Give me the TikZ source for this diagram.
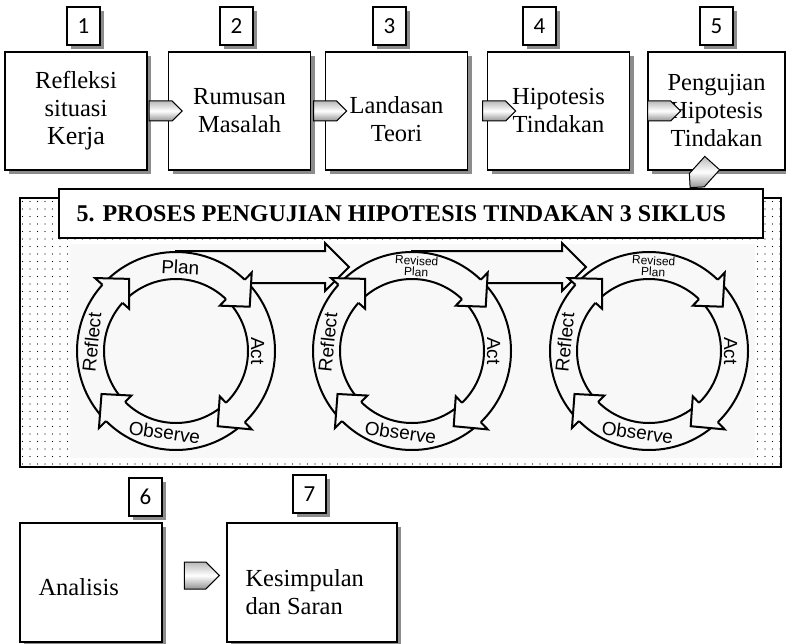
\documentclass[tikz,border=0pt]{standalone}
\usepackage{fontspec}
\setmainfont{Liberation Serif}
\setsansfont{Liberation Sans}
\newfontfamily\numfont{Carlito}
\usetikzlibrary{calc,shapes.symbols,shadows,patterns.meta}
\definecolor{ptkink}{HTML}{000000}
\definecolor{ptkshade}{HTML}{8C8C8C}
\definecolor{ptkpaper}{HTML}{F8F8F8}
\tikzset{
  shd/.style={drop shadow={shadow xshift=4pt, shadow yshift=-4pt, fill=ptkshade, opacity=1}},
  stepbox/.style={draw=ptkink, line width=1.3pt, fill=white, minimum width=142pt, minimum height=118pt, inner sep=0pt, shd},
  numbox/.style={draw=ptkink, line width=1.3pt, fill=white, minimum width=33pt, minimum height=38pt, inner sep=0pt, font=\numfont\fontsize{23}{23}\selectfont, shd},
  boxtxt/.style={font=\fontsize{24.5}{28}\selectfont, align=center, inner sep=0pt},
  blockarr/.style={signal, signal to=east, draw=ptkink, line width=1pt, minimum width=33pt, minimum height=20pt, inner sep=0pt, top color=gray!55, bottom color=gray!85, middle color=white},
  ring/.style={draw=ptkink, line width=2pt},
  head/.style={draw=ptkink, line width=2pt, fill=ptkpaper, line join=miter},
  hollow/.style={draw=ptkink, line width=2pt, fill=ptkpaper, line join=miter},
  cyclab/.style={font=\sffamily\fontsize{19}{19}\selectfont, inner sep=0pt, anchor=base},
  revlab/.style={font=\sffamily\fontsize{12}{12}\selectfont, inner sep=0pt, anchor=base},
}

\begin{document}
\begin{tikzpicture}[x=1pt, y=1pt]
  \useasboundingbox (0,0) rectangle (786,-644);

  % langkah 1-5
  \foreach \n/\x/\w/\dy/\txt in {
    1/76/142/0/{Refleksi\\situasi\\\fontsize{26}{28}\selectfont Kerja},
    2/239.5/142/0/{Rumusan\\Masalah},
    3/396.5/142/-8/{Landasan\\Teori},
    4/558.5/142/0/{Hipotesis\\Tindakan},
    5/716.5/137/0/{Pengujian\\Hipotesis\\Tindakan}}
  {
    \node[stepbox, minimum width=\w pt] (b\n) at (\x,-111) {};
    \node[boxtxt] (t\n) at ($(b\n.center)+(0,\dy)$) {\txt};
  }
  \foreach \a/\d in {1/13, 2/14, 3/26, 4/29}
    \node[blockarr] (a\a) at ($(b\a.east)+(\d,0)$) {};
  \node[blockarr, rotate=-132] (a5) at ($(b5.south)+(-12,-1)$) {};

  % kotak siklus
  \draw[line width=1.5pt, pattern={Dots[distance=7.5pt, radius=0.65pt]}] (20,-198) rectangle (781,-467);
  \fill[ptkpaper] (70,-244) rectangle (755,-458);
  \node[draw=ptkink, line width=1.3pt, fill=white, minimum width=704pt, minimum height=49pt, inner sep=0pt] (title) at (411,-213.5) {};
  \node[anchor=west, inner sep=0pt, font=\bfseries\fontsize{24}{24}\selectfont] (ttl) at ($(title.west)+(18,0)$) {5. PROSES PENGUJIAN HIPOTESIS TINDAKAN 3 SIKLUS};

  \foreach \i/\x in {1/176, 2/412, 3/649} \coordinate (c\i) at (\x,-351);
  \foreach \a/\b in {1/2, 2/3}
    \draw[hollow] ($(c\a)+(0,100)$) -- ($(c\b)+(-87,100)$) -- ($(c\b)+(-87,108)$) -- ($(c\b)+(-63,84)$)
      -- ($(c\b)+(-87,60)$) -- ($(c\b)+(-87,68)$) -- ($(c\a)+(0,68)$) -- cycle;
  \foreach \i in {1,2,3} {
    \fill[ptkpaper] (c\i) circle[radius=99pt];
    \draw[ring] (c\i) circle[radius=99pt] (c\i) circle[radius=72pt];
    \foreach \t in {138,46,-46,-135}
      \path[head] ($(c\i)+(\t:99pt)$) -- ($(c\i)+(\t:109pt)$) -- ($(c\i)+({\t-15}:86pt)$)
        -- ($(c\i)+(\t:63pt)$) -- ($(c\i)+(\t:72pt)$);
    \node[cyclab, rotate=-90] (act\i) at ($(c\i)+(0:75pt)$) {Act};
    \node[cyclab, rotate=84] (refl\i) at ($(c\i)+(174:78pt)$) {Reflect};
    \node[cyclab, rotate=352] (obs\i) at ($(c\i)+(262:89pt)$) {Observe};
  }
  \node[cyclab, rotate=-3] (plan1) at ($(c1)+(87:77pt)$) {Plan};
  \foreach \i in {2,3} {
    \node[revlab, rotate=-3] (rev\i) at ($(c\i)+(87:86pt)$) {Revised};
    \node[revlab, rotate=-3] (rplan\i) at ($(c\i)+(87:75pt)$) {Plan};
  }

  % langkah 6-7
  \node[stepbox, minimum height=119pt] (b6) at (91,-582.5) {};
  \node[stepbox, minimum width=170pt, minimum height=119pt] (b7) at (312,-582.5) {};
  \node[boxtxt, anchor=west] (t6) at ($(b6.west)+(19,-5)$) {Analisis};
  \node[boxtxt, anchor=west, align=left] (t7) at ($(b7.west)+(19,-10)$) {Kesimpulan\\dan Saran};
  \node[blockarr, minimum width=35pt, minimum height=27pt] (a6) at ($(b6.east)+(32.5,7)$) {};

  \foreach \n/\x/\y in {1/83.5/26, 2/236.5/26, 3/389.5/26, 4/539.5/26, 5/716.5/26, 6/145.5/497, 7/309.5/494}
    \node[numbox] (n\n) at (\x,-\y) {\n};
\end{tikzpicture}
\end{document}
